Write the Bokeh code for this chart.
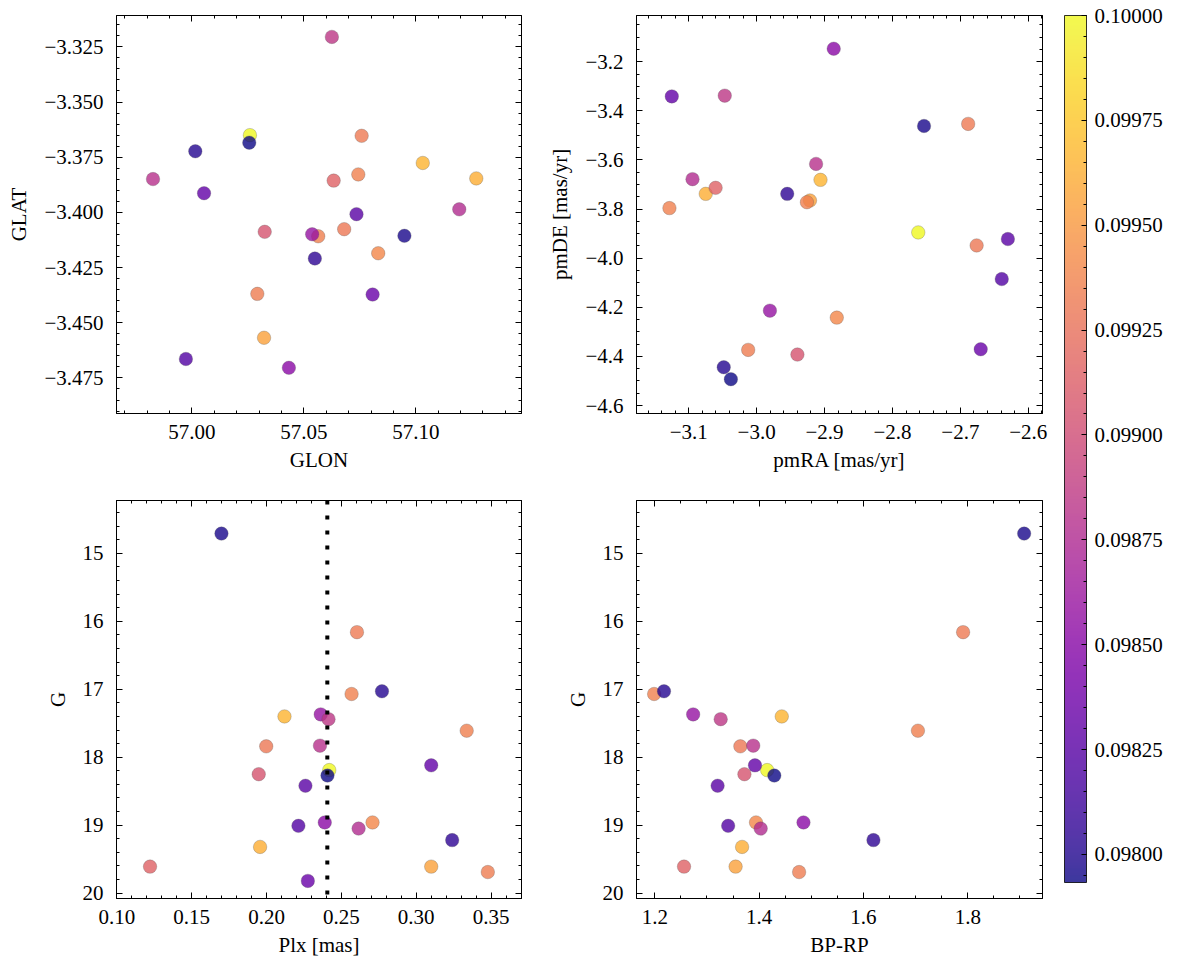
import math
from bokeh.plotting import figure
from bokeh.models import (ColumnDataSource, LinearColorMapper, ColorBar, FixedTicker,
                          LinearAxis, Range1d, Span, CustomJSTickFormatter, PrintfTickFormatter)
from bokeh.layouts import row, column
from bokeh.palettes import Plasma256
from bokeh.embed import file_html
from bokeh.resources import INLINE
import numpy as np

# ---------------- data (one entry per star) ----------------
glon = [57.0949, 57.0758, 57.0743, 57.0015, 57.1031, 57.0680, 56.9826, 57.0259, 57.0054, 57.0325,
        57.0256, 57.0735, 56.9973, 57.0433, 57.0549, 57.1270, 57.0633, 57.0322, 57.0564, 57.0537,
        57.0625, 57.0832, 57.1194, 57.0292, 57.0807]
glat = [-3.4106, -3.3653, -3.3828, -3.3723, -3.3776, -3.4076, -3.3849, -3.3650, -3.3913, -3.4088,
        -3.3684, -3.4008, -3.4664, -3.4704, -3.4209, -3.3846, -3.3856, -3.4568, -3.4108, -3.4099,
        -3.3205, -3.4185, -3.3986, -3.4369, -3.4372]
pmra = [-2.7535, -2.6885, -3.1285, -3.0485, -2.9060, -2.6760, -2.9125, -2.7620, -3.1250, -2.9400,
        -3.0380, -2.6300, -2.6390, -2.8865, -2.9550, -3.0750, -3.0605, -2.9215, -2.9260, -2.9805,
        -3.0470, -2.8820, -3.0945, -3.0125, -2.6700]
pmde = [-3.4615, -3.4530, -3.7960, -4.4440, -3.6810, -3.9480, -3.6160, -3.8950, -3.3410, -4.3924,
        -4.4927, -3.9220, -4.0850, -3.1470, -3.7380, -3.7380, -3.7135, -3.7650, -3.7720, -4.2136,
        -3.3380, -4.2420, -3.6780, -4.3734, -4.3707]
plx = [0.1699, 0.2604, 0.2568, 0.2771, 0.2120, 0.1998, 0.2357, 0.2419, 0.3100, 0.1948,
       0.2407, 0.2260, 0.2213, 0.2389, 0.3240, 0.1957, 0.1222, 0.3100, 0.3337, 0.2362,
       0.2414, 0.2708, 0.2615, 0.3478, 0.2276]
gmag = [14.71, 16.16, 17.07, 17.03, 17.40, 17.84, 17.83, 18.19, 18.12, 18.25,
        18.27, 18.42, 19.01, 18.96, 19.22, 19.32, 19.61, 19.61, 17.61, 17.37,
        17.44, 18.96, 19.05, 19.69, 19.82]
bprp = [1.9080, 1.7910, 1.1987, 1.2176, 1.4434, 1.3640, 1.3887, 1.4154, 1.3920, 1.3718,
        1.4291, 1.3204, 1.3406, 1.4850, 1.6191, 1.3673, 1.2560, 1.3549, 1.7044, 1.2735,
        1.3263, 1.3940, 1.4030, 1.4766, float("nan")]
cval = [0.09797, 0.09932, 0.09936, 0.09801, 0.09966, 0.09930, 0.09880, 0.10000, 0.09830, 0.09905,
        0.097933, 0.09826, 0.09822, 0.09852, 0.09805, 0.09962, 0.09915, 0.09955, 0.09935, 0.09858,
        0.09885, 0.09940, 0.09876, 0.09933, 0.09834]
plx_ref = 0.2406

# ticks and labels
tl_xticks = [57.00, 57.05, 57.10]
tl_xlabels = ["57.00", "57.05", "57.10"]
tl_yticks = [-3.475, -3.45, -3.425, -3.4, -3.375, -3.35, -3.325]
tl_ylabels = ["\u22123.475", "\u22123.450", "\u22123.425", "\u22123.400", "\u22123.375", "\u22123.350", "\u22123.325"]
tr_xticks = [-3.1, -3.0, -2.9, -2.8, -2.7, -2.6]
tr_xlabels = ["\u22123.1", "\u22123.0", "\u22122.9", "\u22122.8", "\u22122.7", "\u22122.6"]
tr_yticks = [-4.6, -4.4, -4.2, -4.0, -3.8, -3.6, -3.4, -3.2]
tr_ylabels = ["\u22124.6", "\u22124.4", "\u22124.2", "\u22124.0", "\u22123.8", "\u22123.6", "\u22123.4", "\u22123.2"]
bl_xticks = [0.10, 0.15, 0.20, 0.25, 0.30, 0.35]
bl_xlabels = ["0.10", "0.15", "0.20", "0.25", "0.30", "0.35"]
g_ticks = [15, 16, 17, 18, 19, 20]
g_labels = ["15", "16", "17", "18", "19", "20"]
br_xticks = [1.2, 1.4, 1.6, 1.8]
br_xlabels = ["1.2", "1.4", "1.6", "1.8"]
cb_ticks = [0.098, 0.09825, 0.0985, 0.09875, 0.099, 0.09925, 0.0995, 0.09975, 0.1]
cmin, cmax = 0.097933, 0.10000

FONT = "Liberation Serif"
FS = "21px"

src = ColumnDataSource(dict(glon=glon, glat=glat, pmra=pmra, pmde=pmde, plx=plx,
                            g=gmag, bprp=bprp, c=cval))
mapper = LinearColorMapper(palette=Plasma256, low=cmin, high=cmax)


def minors(major, ndiv, lo, hi):
    step = (major[1] - major[0]) / ndiv
    start = major[0] - step * math.ceil((major[0] - lo) / step)
    vals = np.arange(start, hi + step * 0.5, step)
    return [float(v) for v in vals if lo <= v <= hi]


def style_axis(ax, ticks, labels, minor, show):
    ax.ticker = FixedTicker(ticks=ticks, minor_ticks=minor)
    ax.major_tick_in = 6
    ax.major_tick_out = 0
    ax.minor_tick_in = 3
    ax.minor_tick_out = 0
    ax.axis_line_color = "black"
    ax.major_tick_line_color = "black"
    ax.minor_tick_line_color = "black"
    ax.axis_line_width = 1
    if show:
        ax.major_label_overrides = {t: l for t, l in zip(ticks, labels)}
        ax.major_label_text_font = FONT
        ax.major_label_text_font_size = FS
        ax.major_label_text_color = "black"
        ax.axis_label_text_font = FONT
        ax.axis_label_text_font_size = FS
        ax.axis_label_text_font_style = "normal"
        ax.axis_label_text_color = "black"
    else:
        ax.formatter = CustomJSTickFormatter(code="return ''")
        ax.major_label_standoff = 0


def panel(xf, yf, xr, yr, xt, xl, xnd, yt, yl, ynd, xlabel, ylabel,
          left, right, top, bottom, fw, fh):
    p = figure(frame_width=fw, frame_height=fh, x_range=Range1d(*xr), y_range=Range1d(*yr),
               toolbar_location=None, output_backend="svg",
               min_border_left=left, min_border_right=right,
               min_border_top=top, min_border_bottom=bottom)
    p.grid.visible = False
    p.outline_line_color = "black"
    p.outline_line_width = 1
    p.background_fill_color = "white"
    p.border_fill_color = "white"
    xlo, xhi = min(xr), max(xr)
    ylo, yhi = min(yr), max(yr)
    xm = minors(xt, xnd, xlo, xhi)
    ym = minors(yt, ynd, ylo, yhi)
    style_axis(p.xaxis[0], xt, xl, xm, True)
    style_axis(p.yaxis[0], yt, yl, ym, True)
    p.xaxis[0].axis_label = xlabel
    p.yaxis[0].axis_label = ylabel
    p.xaxis[0].major_label_standoff = 11
    p.yaxis[0].major_label_standoff = 13
    p.xaxis[0].axis_label_standoff = 6
    p.yaxis[0].axis_label_standoff = 10
    ax_top = LinearAxis()
    style_axis(ax_top, xt, xl, xm, False)
    p.add_layout(ax_top, "above")
    ax_right = LinearAxis()
    style_axis(ax_right, yt, yl, ym, False)
    p.add_layout(ax_right, "right")
    p.scatter(xf, yf, source=src, size=13.5,
              fill_color={"field": "c", "transform": mapper}, fill_alpha=0.8,
              line_color="#555555", line_alpha=0.7, line_width=0.4)
    return p


p_tl = panel("glon", "glat", (56.9663, 57.1472), (-3.4911, -3.3108),
             tl_xticks, tl_xlabels, 5, tl_yticks, tl_ylabels, 5, "GLON", "GLAT",
             116, 5, 15, 82, 405, 398)
p_tr = panel("pmra", "pmde", (-3.177, -2.579), (-4.6325, -3.0116),
             tr_xticks, tr_xlabels, 5, tr_yticks, tr_ylabels, 4, "pmRA [mas/yr]", "pmDE [mas/yr]",
             110, 10, 15, 82, 406, 398)
p_bl = panel("plx", "g", (0.0998, 0.3703), (20.079, 14.223),
             bl_xticks, bl_xlabels, 5, g_ticks, g_labels, 5, "Plx [mas]", "G",
             116, 5, 5, 60, 405, 398)
p_br = panel("bprp", "g", (1.1649, 1.9432), (20.079, 14.223),
             br_xticks, br_xlabels, 4, g_ticks, g_labels, 5, "BP-RP", "G",
             110, 10, 5, 60, 406, 398)

p_bl.add_layout(Span(location=plx_ref, dimension="height", line_color="black",
                     line_width=4, line_dash="4 11"))

# colour bar panel
cb_fig = figure(width=125, height=958, toolbar_location=None, output_backend="svg",
                x_axis_type=None, y_axis_type=None, min_border=0,
                x_range=Range1d(0, 1), y_range=Range1d(0, 1))
cb_fig.outline_line_color = None
cb_fig.grid.visible = False
cb_minor = minors(cb_ticks, 5, cmin, cmax)
cb = ColorBar(color_mapper=mapper, width=22, height=867, location=(12, 76), padding=0,
              ticker=FixedTicker(ticks=cb_ticks, minor_ticks=cb_minor),
              formatter=PrintfTickFormatter(format="%.5f"),
              major_label_text_font=FONT, major_label_text_font_size=FS,
              major_label_text_color="black",
              major_tick_in=5, major_tick_out=0, major_tick_line_color="black",
              minor_tick_in=3, minor_tick_out=0, minor_tick_line_color="black",
              bar_line_color="black", bar_line_width=1,
              background_fill_alpha=0, border_line_color=None,
              scale_alpha=0.8, label_standoff=8)
cb_fig.add_layout(cb, "center")

layout = row(column(row(p_tl, p_tr), row(p_bl, p_br)), cb_fig)

open("out.html", "w").write(file_html(layout, INLINE))
